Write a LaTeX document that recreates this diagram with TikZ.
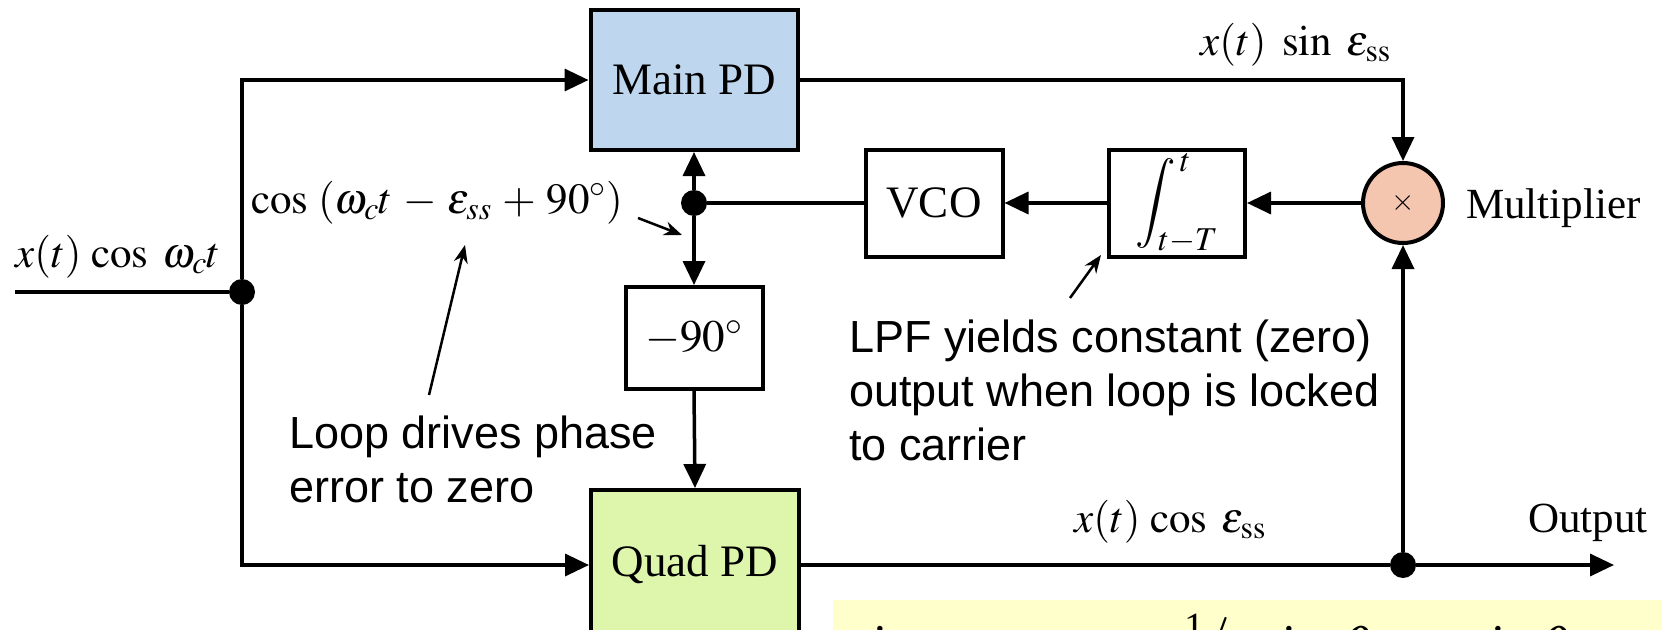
\documentclass[tikz,border=0pt]{standalone}
\usepackage{mathptmx}
\usepackage[no-math]{fontspec}
\setmainfont{Liberation Serif}
\newfontfamily\annfont{Liberation Sans}
\usetikzlibrary{arrows.meta}
\definecolor{mainblue}{RGB}{190,214,238}
\definecolor{quadgreen}{RGB}{222,245,172}
\definecolor{multpink}{RGB}{244,198,176}
\definecolor{notey}{RGB}{255,255,204}
\tikzset{
  blk/.style={draw, line width=4pt, inner sep=0pt, font=\fontsize{45}{50}\selectfont},
  ln/.style={line width=3.5pt},
  sig/.style={line width=3.5pt, -{Triangle[length=24pt,width=22pt]}},
  jdot/.style={circle, fill=black, inner sep=0pt, minimum size=26pt},
  ann/.style={line width=2.5pt, -{Stealth[length=18pt,width=14pt]}},
  mlabel/.style={inner sep=0pt, anchor=base west, font=\fontsize{43}{48}\selectfont},
  tlabel/.style={inner sep=0pt, anchor=base west, font=\fontsize{43}{48}\selectfont},
  note/.style={inner sep=0pt, anchor=north west, align=left, font=\annfont\fontsize{45}{54}\selectfont}
}
\begin{document}
\begin{tikzpicture}[x=1pt, y=-1pt]
\useasboundingbox (0,0) rectangle (1662,629);
\clip (0,0) rectangle (1662,629);
% blocks
\node[blk, fill=mainblue, minimum width=207pt, minimum height=140pt] (mainpd) at (694,80) {Main PD};
\node[blk, fill=quadgreen, minimum width=208pt, minimum height=150pt] (quadpd) at (695,565) {Quad PD};
\node[blk, fill=white, minimum width=137pt, minimum height=102pt] (shift) at (694,338) {$-90^\circ$};
\node[blk, fill=white, minimum width=137pt, minimum height=107pt] (vco) at (934,203) {VCO};
\node[blk, fill=white, minimum width=136pt, minimum height=107pt] (integ) at (1177,203) {$\displaystyle\int_{t-T}^{\,t}$};
\node[circle, draw, line width=4pt, fill=multpink, minimum size=80pt, inner sep=0pt, font=\fontsize{30}{30}\selectfont] (mult) at (1403,203) {$\times$};
% junctions
\node[jdot] (indot) at (242,292) {};
\node[jdot] (vdot) at (694,203) {};
\node[jdot] (outdot) at (1403,565) {};
\coordinate (in) at (15,292);
\coordinate (outend) at (1614,565);
% signal lines
\draw[ln] (in) -- (indot);
\draw[sig] (indot) |- (mainpd.west);
\draw[sig] (indot) |- (quadpd.west);
\draw[sig] (mainpd.east) -| (mult.north);
\draw[sig] (mult.west) -- (integ.east);
\draw[sig] (integ.west) -- (vco.east);
\draw[ln] (vco.west) -- (vdot);
\draw[sig] (vdot) -- (mainpd.south);
\draw[sig] (vdot) -- (shift.north);
\draw[sig] (shift.south) -- (quadpd.north);
\draw[ln] (quadpd.east) -- (outdot);
\draw[sig] (outdot) -- (outend);
\draw[sig] (outdot) -- (mult.south);
% labels
\node[mlabel] (lin) at (15,267) {$x(t)\,\cos\;\omega_c t$};
\node[mlabel] (lvco) at (251,213) {$\cos\;(\omega_c t \mskip2mu-\mskip2mu \epsilon_{ss} \mskip2mu+\mskip2mu 90^\circ)$};
\node[mlabel] (lsin) at (1200,55) {$x(t)\ \sin\;\epsilon_{\rm ss}$};
\node[mlabel] (lcos) at (1074,532) {$x(t)\,\cos\;\epsilon_{\rm ss}$};
\node[tlabel] (lmult) at (1466,218) {Multiplier};
\node[tlabel] (lout) at (1528,532) {Output};
% annotations
\node[note] (nloop) at (289,416) {Loop drives phase\\error to zero};
\node[note] (nlpf) at (849,320) {LPF yields constant (zero)\\output when loop is locked\\to carrier};
\coordinate (a1s) at (638,218); \coordinate (a1e) at (682,235);
\coordinate (a2s) at (429,395); \coordinate (a2e) at (465,245);
\coordinate (a3s) at (1070,298); \coordinate (a3e) at (1101,255);
\draw[ann] (a1s) -- (a1e);
\draw[ann] (a2s) -- (a2e);
\draw[ann] (a3s) -- (a3e);
% note box at bottom (cut off)
\node[fill=notey, anchor=north west, minimum width=900pt, minimum height=100pt, inner sep=0pt] (ybox) at (833,600) {};
\node[inner sep=0pt, anchor=base west, font=\fontsize{53}{60}\selectfont] (formula) at (853,662)
  {$\sin\alpha\,\cos\alpha\hspace{100pt}{\raisebox{22pt}{\fontsize{40}{40}\selectfont 1}}\!\big/_{2}\,\sin\;\theta\hspace{20pt}\approx\;\sin\theta$};
\end{tikzpicture}
\end{document}
